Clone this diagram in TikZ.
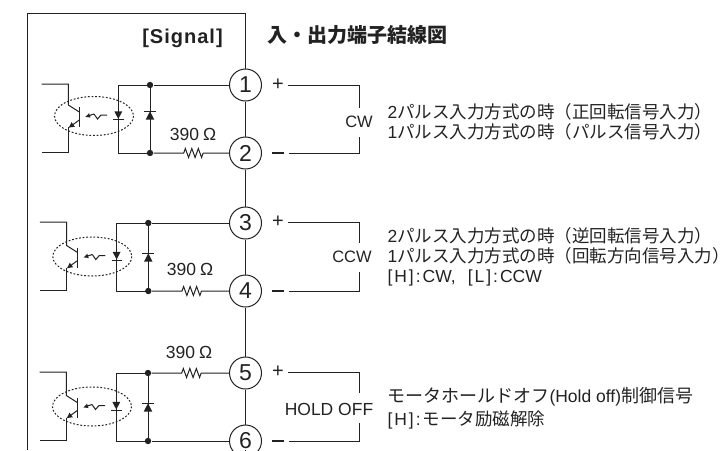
\documentclass[tikz,border=0pt]{standalone}
\usepackage{fontspec}
\usepackage{tikz}
\usetikzlibrary{arrows.meta,decorations.pathmorphing}
\setmainfont{Liberation Sans}
\newfontfamily\cjk{Noto Sans CJK JP}

\definecolor{inkgray}{HTML}{222222}

\tikzset{
    pics/coupler/.style={code={
        % phototransistor
        \draw (41.5,-1) -- (68.3,-1) -- (68.3,20+#1) -- (79.3,27+#1);
        \draw[-{Latex[length=6pt,width=6pt]}] (79.3,35+#1) -- (68.3,43+#1);
        \draw (68.3,42+#1) -- (68.3,67) -- (41.5,67);
        \draw (79.3,22+#1) -- (79.3,42+#1);
        \draw[line width=1pt,dash pattern=on 1.8pt off 1.8pt] (94,31+#1) ellipse [x radius=39.5,y radius=19.5];
        % light
        \draw[-{Latex[length=5pt,width=5pt]}] (94,29+#1) -- (85,32+#1);
        \draw (94,29+#1) -- (97.5,34+#1) -- (101,30+#1) -- (107,30+#1);
        % led and clamp diode
        \draw (150,0) -- (118.3,0) -- (118.3,68) -- (150,68);
        \fill (114.3,26.3+#1) -- (122.3,26.3+#1) -- (118.3,34+#1) -- cycle;
        \draw (113.3,34.7+#1) -- (124,34.7+#1);
        \draw (150,0) -- (150,68);
        \fill (145.7,34.7+1.6*#1) -- (154.3,34.7+1.6*#1) -- (150,26.3+1.6*#1) -- cycle;
        \draw (144,26+1.6*#1) -- (156,26+1.6*#1);
        \node[wiredot] (-top) at (150,0) {};
        \node[wiredot] (-bot) at (150,68) {};
    }},
    wiredot/.style={circle,fill=inkgray,inner sep=0pt,minimum size=6.4pt},
    terminal/.style={circle,draw,fill=white,inner sep=0pt,minimum size=32pt,font=\fontsize{23}{23}\selectfont},
    polarity/.style={inner sep=4pt,font=\fontsize{20}{20}\selectfont},
    signame/.style={inner sep=1pt,font=\fontsize{16.5}{18}\selectfont},
    ohms/.style={inner sep=0pt,font=\fontsize{17.5}{18}\selectfont},
    note/.style={anchor=west,inner sep=0pt,align=left,font=\fontsize{17.5}{20}\selectfont},
    resistor/.style={decorate,decoration={zigzag,segment length=6.5pt,amplitude=4.5pt,pre=lineto,pre length=30pt,post=lineto,post length=25pt}}
}

\newcommand{\minusmark}{\rule{12pt}{2.2pt}}
\newcommand{\levelmark}[1]{[\hspace{2pt}#1\hspace{2pt}]\hspace{2pt}:\hspace{2pt}}

\begin{document}
\begin{tikzpicture}[x=1pt,y=-1pt,line width=1pt,color=inkgray]
    \clip (0,0) rectangle (725,450);

    % Terminals
    \node[terminal] (t1) at (245.5,85) {1};
    \node[terminal] (t2) at (245.5,153) {2};
    \node[terminal] (t3) at (245.5,223) {3};
    \node[terminal] (t4) at (245.5,291) {4};
    \node[terminal] (t5) at (245.5,373) {5};
    \node[terminal] (t6) at (245.5,441) {6};

    % Frame
    \coordinate (framebl) at (27,450);
    \coordinate (frametr) at (245.5,13);
    \coordinate (framebr) at (245.5,450);
    \draw (framebl) |- (frametr) -- (t1);
    \draw (t1) -- (t2) (t2) -- (t3) (t3) -- (t4) (t4) -- (t5) (t5) -- (t6) (t6) -- (framebr);

    \node[inner sep=0pt,font=\fontsize{20}{20}\selectfont\bfseries\addfontfeature{LetterSpace=5}] (signal) at (182.5,38) {[Signal]};
    \node[note,font=\cjk\fontsize{20}{22}\selectfont\bfseries] (title) at (267,35) {入・出力端子結線図};

    % Couplers
    \pic (a) at (0,85) {coupler=0};
    \pic (b) at (-1.7,223) {coupler=2.5};
    \pic (c) at (-2,373) {coupler=2.5};

    \draw (a-top) -- (t1);
    \draw[resistor] (a-bot) -- (t2);
    \draw (b-top) -- (t3);
    \draw[resistor] (b-bot) -- (t4);
    \draw[resistor] (c-top) -- (t5);
    \draw (c-bot) -- (t6);

    \node[ohms] (r1) at (193,134) {390\hspace{4pt}Ω};
    \node[ohms] (r2) at (190,269) {390\hspace{4pt}Ω};
    \node[ohms] (r3) at (189,352) {390\hspace{4pt}Ω};

    % Polarity marks
    \node[polarity] (p1) at (278,85) {+};
    \node[polarity] (m1) at (278,153) {\minusmark};
    \node[polarity] (p2) at (278,222) {+};
    \node[polarity] (m2) at (278,291) {\minusmark};
    \node[polarity] (p3) at (278,372) {+};
    \node[polarity] (m3) at (278,441) {\minusmark};

    % Signal brackets
    \node[signame] (cw) at (359,122) {CW};
    \node[signame] (ccw) at (352,257) {CCW};
    \node[signame,font=\fontsize{17.5}{18}\selectfont] (hold) at (329,409) {HOLD OFF};
    \coordinate (cwa) at (359,108);
    \coordinate (cwb) at (359,137);
    \coordinate (ccwa) at (359,243);
    \coordinate (ccwb) at (359,272);
    \coordinate (holda) at (359,393);
    \coordinate (holdb) at (359,423);
    \draw (p1) -| (cwa);
    \draw (m1) -| (cwb);
    \draw (p2) -| (ccwa);
    \draw (m2) -| (ccwb);
    \draw (p3) -| (holda);
    \draw (m3) -| (holdb);

    % Notes
    \node[note] (n1) at (387,122) {2{\cjk パルス入力方式の時（正回転信号入力）}\\1{\cjk パルス入力方式の時（パルス信号入力）}};
    \node[note] (n2) at (387,257) {2{\cjk パルス入力方式の時（逆回転信号入力）}\\1{\cjk パルス入力方式の時（回転方向信号入力）}\\\levelmark{H}CW,\hspace{12pt}\levelmark{L}CCW};
    \node[note] (n3) at (387,408) {{\fontsize{18}{20}\selectfont\cjk モータホールドオフ}(Hold off){\fontsize{18}{20}\selectfont\cjk 制御信号}\\[3pt]\levelmark{H}{\cjk モータ励磁解除}};
\end{tikzpicture}
\end{document}
